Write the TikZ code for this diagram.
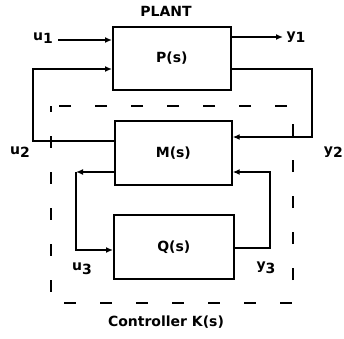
\documentclass[tikz,border=0pt]{standalone}
\usepackage{fontspec}
\setmainfont{DejaVu Sans}
\usetikzlibrary{arrows.meta}
\newcommand{\sbs}[2]{#1\raisebox{-3.5pt}{#2}}
\begin{document}
\begin{tikzpicture}[x=1pt,y=-1pt,
  blk/.style={draw,line width=1.7pt,anchor=north west,inner sep=0pt,font=\bfseries\fontsize{14}{16}\selectfont},
  lbl/.style={font=\bfseries\fontsize{14}{16}\selectfont,inner sep=0pt},
  arr/.style={line width=1.7pt,-{Latex[length=7pt,width=6pt]}}]
\useasboundingbox (0,0) rectangle (344,338);
\node[blk,minimum width=118pt,minimum height=63pt] (P) at (112,26) {P(s)};
\node[blk,minimum width=117pt,minimum height=64pt] (M) at (114,120) {M(s)};
\node[blk,minimum width=120pt,minimum height=64pt] (Q) at (113,214) {Q(s)};
\draw[line width=1.4pt,dash pattern=on 12pt off 24pt,dash phase=6pt] (51,106) rectangle (293,303);
\node[lbl] (plant) at (166,11) {PLANT};
\node[lbl] (ctrl) at (166,322) {Controller K(s)};
\node[lbl] (u1) at (43,38) {\sbs{u}{1}};
\node[lbl] (y1) at (296,37) {\sbs{y}{1}};
\node[lbl] (u2) at (20,152) {\sbs{u}{2}};
\node[lbl,anchor=east] (y2) at (343,152) {\sbs{y}{2}};
\node[lbl] (u3) at (82,269) {\sbs{u}{3}};
\node[lbl] (y3) at (266,268) {\sbs{y}{3}};
\coordinate (a1) at (58,40);
\coordinate (b1) at (283,37);
\draw[arr] (a1) -- (P.west |- a1);
\draw[arr] (P.east |- b1) -- (b1);
\draw[arr] (M.west |- 0,141) -- (33,141) -- (33,69) -- (P.west |- 0,69);
\draw[arr] (P.east |- 0,69) -- (312,69) -- (312,137) -- (M.east |- 0,137);
\coordinate (c) at (76,172);
\draw[arr] (M.west |- c) -- (c);
\draw[arr] (c) -- (76,250) -- (Q.west |- 0,250);
\draw[arr] (Q.east |- 0,248) -- (270,248) -- (270,172) -- (M.east |- 0,172);
\end{tikzpicture}
\end{document}
